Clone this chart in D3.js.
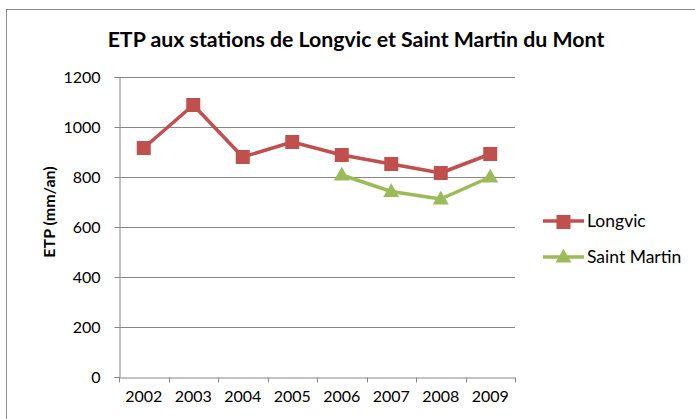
<!doctype html>
<html>
  <head>
    <meta charset="utf-8">
    <title>ETP Longvic / Saint Martin</title>
    <script src="https://d3js.org/d3.v7.min.js"></script>
    <style type="text/css">
      body { margin: 0; background-color: #ffffff; }
      svg { display: block; font-family: Lato, "Open Sans", sans-serif; }
    </style>
  </head>
  <body>
    <script>
      // data
      var years = ["2002", "2003", "2004", "2005", "2006", "2007", "2008", "2009"];
      var longvic = [916, 1088, 880, 940, 888, 852, 816, 892];
      var saintMartin = [null, null, null, null, 808, 742, 712, 800];
      var yTicks = [0, 200, 400, 600, 800, 1000, 1200];

      var w = 695, h = 419;
      var m = { left: 119, right: 515, top: 77, bottom: 377 };

      var svg = d3.select("body").append("svg")
        .attr("width", w)
        .attr("height", h);

      // chart frame
      svg.append("rect")
        .attr("x", 6.5).attr("y", 9.5)
        .attr("width", 700).attr("height", 420)
        .attr("fill", "#fff").attr("stroke", "#8c8c8c");

      var x = d3.scaleBand().domain(years).range([m.left, m.right]);
      var y = d3.scaleLinear().domain([0, 1200]).range([m.bottom, m.top]);

      // gridlines
      svg.append("g").selectAll("line")
        .data(yTicks.slice(1))
        .enter().append("line")
        .attr("x1", m.left).attr("x2", m.right)
        .attr("y1", function(d) { return Math.round(y(d)) + 0.5; })
        .attr("y2", function(d) { return Math.round(y(d)) + 0.5; })
        .attr("stroke", "#868686").attr("stroke-width", 1);

      // y axis
      var yAxis = svg.append("g")
        .attr("transform", "translate(" + (m.left + 0.5) + ",0)")
        .call(d3.axisLeft(y).tickValues(yTicks).tickFormat(d3.format("d")).tickSize(5).tickPadding(14));
      yAxis.select(".domain").attr("stroke", "#868686");
      yAxis.selectAll(".tick line").attr("stroke", "#868686");
      yAxis.selectAll("text").attr("font-size", 16).attr("fill", "#000")
        .attr("font-family", "Lato, 'Open Sans', sans-serif");

      // x axis
      var xAxis = svg.append("g")
        .attr("transform", "translate(0," + (m.bottom + 0.5) + ")")
        .call(d3.axisBottom(x).tickSize(0).tickPadding(13));
      xAxis.select(".domain").attr("stroke", "#868686");
      xAxis.selectAll("text").attr("font-size", 16).attr("fill", "#000")
        .attr("font-family", "Lato, 'Open Sans', sans-serif");
      // category separators
      xAxis.selectAll(".sep")
        .data(years.concat(["end"]))
        .enter().append("line")
        .attr("x1", function(d, i) { return Math.round(m.left + i * x.step()) + 0.5; })
        .attr("x2", function(d, i) { return Math.round(m.left + i * x.step()) + 0.5; })
        .attr("y1", 0).attr("y2", 5)
        .attr("stroke", "#868686");

      var cx = function(d, i) { return x(years[i]) + x.bandwidth() / 2; };

      var line = d3.line()
        .defined(function(d) { return d != null; })
        .x(cx)
        .y(function(d) { return y(d); });

      var red = "#c0504d", green = "#9bbb59";

      svg.append("path").datum(longvic)
        .attr("d", line).attr("fill", "none")
        .attr("stroke", red).attr("stroke-width", 3.5).attr("stroke-linejoin", "round");
      svg.append("g").selectAll("rect")
        .data(longvic).enter().append("rect")
        .attr("x", function(d, i) { return cx(d, i) - 7; })
        .attr("y", function(d) { return y(d) - 7; })
        .attr("width", 14).attr("height", 14)
        .attr("fill", red);

      svg.append("path").datum(saintMartin)
        .attr("d", line).attr("fill", "none")
        .attr("stroke", green).attr("stroke-width", 3.5).attr("stroke-linejoin", "round");
      var tri = d3.symbol().type(d3.symbolTriangle).size(110);
      svg.append("g").selectAll("path")
        .data(saintMartin.map(function(d, i) { return { v: d, i: i }; })
          .filter(function(d) { return d.v != null; }))
        .enter().append("path")
        .attr("d", tri)
        .attr("transform", function(d) { return "translate(" + cx(d.v, d.i) + "," + (y(d.v) + 1) + ")"; })
        .attr("fill", green);

      // title
      svg.append("text")
        .attr("x", 356).attr("y", 47)
        .attr("text-anchor", "middle")
        .attr("font-size", 21.3).attr("font-weight", "bold")
        .text("ETP aux stations de Longvic et Saint Martin du Mont");

      // y label
      svg.append("text")
        .attr("transform", "translate(48.5,212) rotate(-90)")
        .attr("dominant-baseline", "central")
        .attr("text-anchor", "middle")
        .attr("font-size", 16).attr("font-weight", "bold")
        .text("ETP (mm/an)");

      // legend
      var legend = [
        { name: "Longvic", color: red, shape: "square", y: 221 },
        { name: "Saint Martin", color: green, shape: "triangle", y: 257 }
      ];
      var lg = svg.append("g").selectAll("g").data(legend).enter().append("g")
        .attr("transform", function(d) { return "translate(0," + d.y + ")"; });
      lg.append("line")
        .attr("x1", 543).attr("x2", 584).attr("y1", 0).attr("y2", 0)
        .attr("stroke", function(d) { return d.color; }).attr("stroke-width", 3.5);
      lg.append("path")
        .attr("d", function(d) {
          return d.shape === "square"
            ? "M-7,-7h14v14h-14z"
            : d3.symbol().type(d3.symbolTriangle).size(110)();
        })
        .attr("transform", "translate(563.5,1)")
        .attr("fill", function(d) { return d.color; });
      lg.append("text")
        .attr("x", 587).attr("y", 6)
        .attr("font-size", 17.5)
        .text(function(d) { return d.name; });
    </script>
  </body>
</html>
